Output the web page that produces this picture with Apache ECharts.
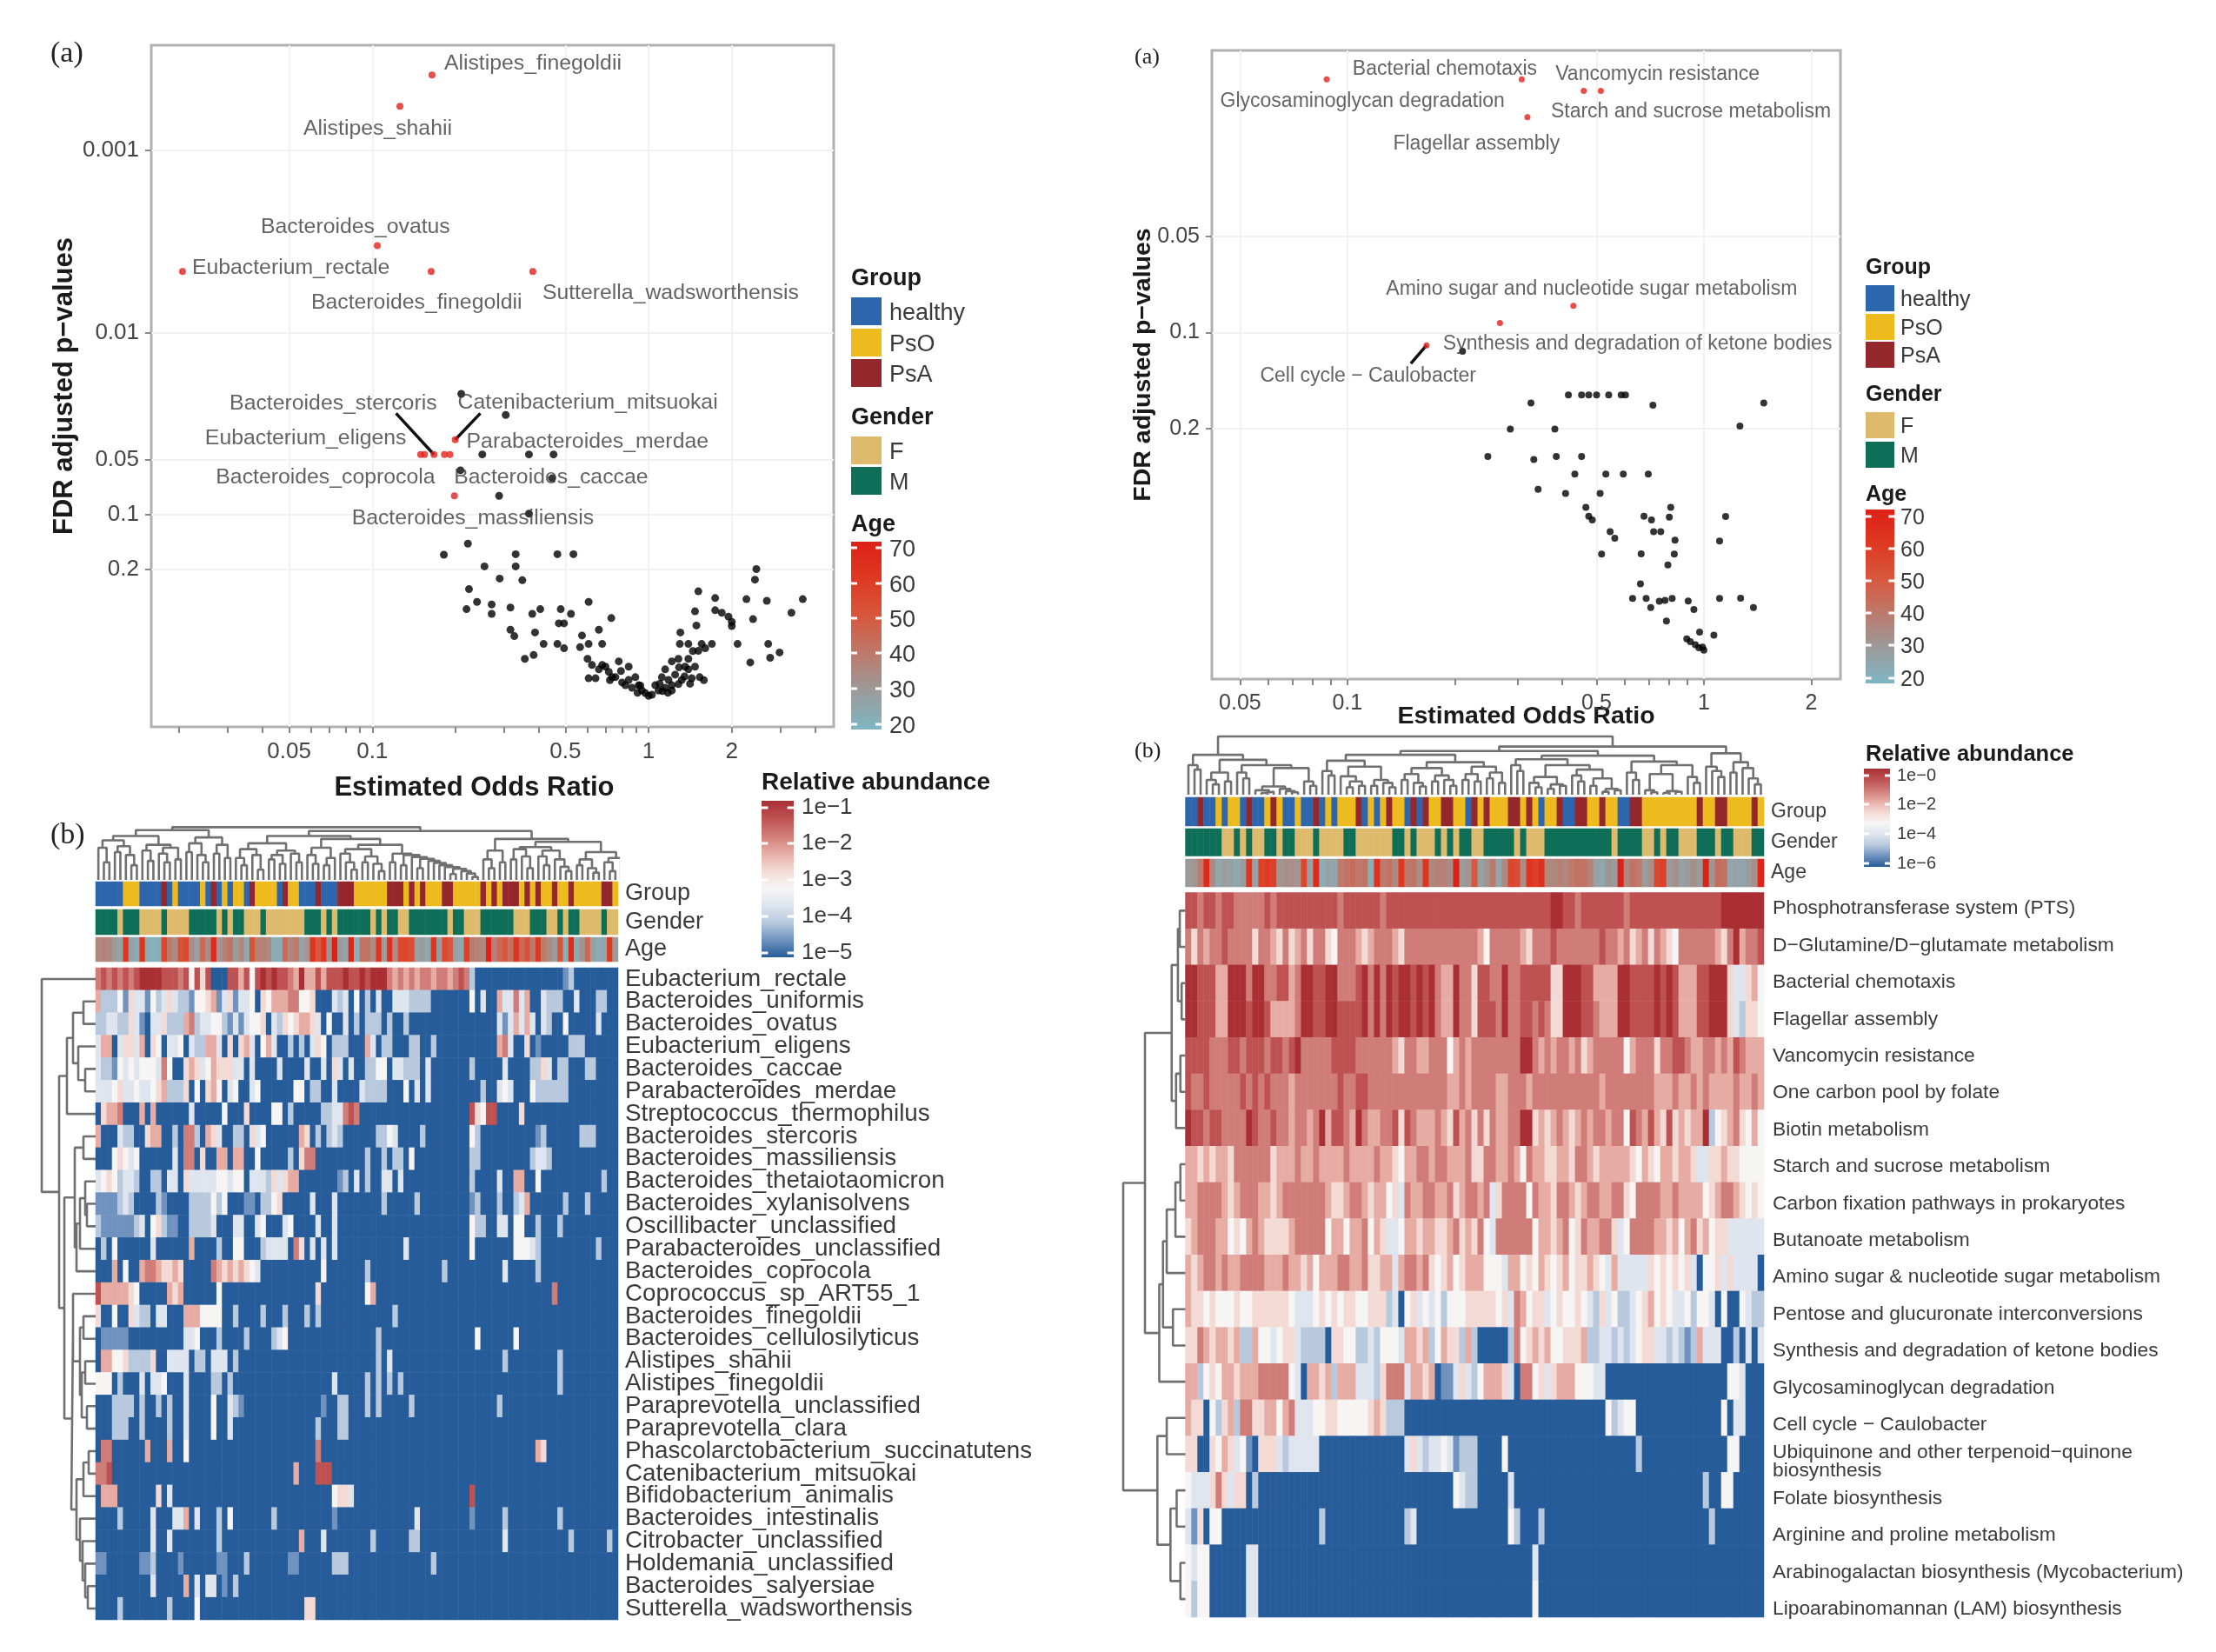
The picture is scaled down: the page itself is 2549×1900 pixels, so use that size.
<!DOCTYPE html>
<html><head><meta charset="utf-8"><style>html,body{margin:0;background:#fff}#c{width:2549px;height:1900px}</style>
<script src="https://cdn.jsdelivr.net/npm/echarts@6/dist/echarts.min.js"></script></head>
<body><div id="c"></div>
<script>
// ---------- volcano data (log10 odds ratio, log10 FDR p) ----------
const leftRedNames=['Alistipes_finegoldii','Alistipes_shahii','Bacteroides_ovatus','Eubacterium_rectale','Bacteroides_finegoldii','Sutterella_wadsworthensis','Catenibacterium_mitsuokai','Eubacterium_eligens','Bacteroides_coprocola','Bacteroides_stercoris','Parabacteroides_merdae','Bacteroides_caccae','Bacteroides_massiliensis'];
const leftRedLogOR=[-.784,-.900,-.982,-1.687,-.787,-.419,-.700,-.825,-.811,-.777,-.719,-.739,-.703];
const leftRedLogP=[-3.415,-3.243,-2.478,-2.336,-2.336,-2.336,-1.411,-1.330,-1.330,-1.330,-1.330,-1.330,-1.103];
const leftBlackLogOR=[-.678,-.517,-.602,-.433,-.344,-.681,-.349,-.541,-.433,-.654,-.741,-.481,-.330,-.272,-.594,-.481,-.539,-.457,.390,.385,-.650,-.621,-.659,-.568,-.568,-.500,-.421,-.392,-.318,-.281,-.217,-.135,-.325,-.306,-.500,-.486,-.411,-.180,-.241,-.380,-.330,-.306,-.248,-.217,-.168,-.448,-.416,-.221,-.205,-.168,-.217,-.192,-.156,-.144,-.108,-.072,-.120,-.096,-.072,-.048,-.060,-.024,0,-.012,.012,.036,.060,.024,.084,.108,.072,.096,.120,.156,.185,.144,.084,.108,.144,.113,.144,.115,.180,.205,.192,.229,.173,.168,.180,.241,.241,.265,.289,.301,.301,.354,.428,.378,.517,.558,.322,.433,.474,.440,.368,.060,.132,.168,-.036,-.084,-.180,-.132,.048,.084,-.10,.04,.13,.15,.07,.05,-.03,-.04,-.14,.20,.11,.16];
const leftBlackLogP=[-1.663,-1.547,-1.330,-1.330,-1.330,-1.243,-1.199,-1.103,-1.005,-.840,-.779,-.782,-.782,-.782,-.715,-.715,-.648,-.639,-.700,-.642,-.590,-.520,-.480,-.506,-.454,-.489,-.454,-.480,-.480,-.454,-.520,-.431,-.402,-.402,-.367,-.332,-.352,-.367,-.335,-.289,-.289,-.265,-.271,-.289,-.289,-.207,-.228,-.207,-.173,-.173,-.100,-.100,-.164,-.135,-.193,-.164,-.106,-.077,-.091,-.106,-.048,-.033,-.004,-.019,-.010,-.033,-.048,-.062,-.062,-.068,-.091,-.120,-.091,-.100,-.106,-.149,-.193,-.207,-.207,-.289,-.289,-.352,-.251,-.265,-.289,-.289,-.390,-.468,-.578,-.541,-.474,-.460,-.439,-.410,-.387,-.535,-.526,-.425,-.460,-.535,-.289,-.289,-.242,-.213,-.187,-.149,-.164,-.164,-.062,-.062,-.149,-.106,-.106,-.033,-.14,-.07,-.11,-.07,-.02,-.03,-.06,-.02,-.09,-.09,-.16,-.25];
const leftConnectors=[[[-.777,-1.330],[-.914,-1.556]],[[-.700,-1.411],[-.609,-1.556]]];
const leftXTicks=[0.05,0.1,0.5,1,2];
const leftXMinor=[.02,.03,.04,.06,.07,.08,.09,.2,.3,.4,.6,.7,.8,.9,3,4];
const leftYTicks=[0.001,0.01,0.05,0.1,0.2];

const rightRedNames=['Bacterial chemotaxis','Glycosaminoglycan degradation','Vancomycin resistance','Starch and sucrose metabolism','Flagellar assembly','Amino sugar and nucleotide sugar metabolism','Synthesis and degradation of ketone bodies','Cell cycle − Caulobacter'];
const rightRedLogOR=[-.511,-1.058,-.337,-.289,-.495,-.366,-.572,-.778];
const rightRedLogP=[-1.794,-1.794,-1.758,-1.758,-1.676,-1.084,-1.030,-.960];
const rightBlackLogOR=[-.677,-.380,-.343,-.323,-.301,-.267,-.232,-.220,-.485,-.143,.168,.101,-.543,-.418,-.606,-.477,-.414,-.343,-.362,-.275,-.226,-.156,-.465,-.388,-.291,-.331,-.093,-.323,-.313,-.168,-.147,-.097,.061,-.263,-.250,-.141,-.121,-.081,.044,-.287,-.176,-.083,-.101,-.178,-.200,-.162,-.149,-.125,-.109,-.089,-.044,-.028,.044,.103,.139,-.105,-.012,.028,-.048,-.038,-.024,-.014,0,-.004];
const rightBlackLogP=[-.941,-.804,-.804,-.804,-.804,-.804,-.804,-.804,-.779,-.772,-.779,-.707,-.697,-.697,-.611,-.602,-.611,-.611,-.556,-.556,-.556,-.556,-.508,-.495,-.495,-.452,-.452,-.424,-.412,-.424,-.412,-.421,-.423,-.375,-.355,-.375,-.375,-.349,-.346,-.305,-.306,-.305,-.271,-.212,-.166,-.166,-.137,-.157,-.160,-.166,-.158,-.131,-.166,-.167,-.137,-.095,-.060,-.051,-.039,-.030,-.021,-.011,-.004,-.013];
const rightConnectors=[[[-.778,-.960],[-.822,-.903]]];
const rightXTicks=[0.05,0.1,0.5,1,2];
const rightXMinor=[.06,.07,.08,.09,.2,.3,.4,.6,.7,.8,.9];
const rightYTicks=[0.05,0.1,0.2];

// label offsets of highlighted points (px), kept apart from the values
const leftLabelOffsets=[[18,-9],[-107,30],[-130,-17],[15,0],[-134,40],[15,29],[7,-39],[-244,-15],[-236,30],[-231,-55],[23,-11],[15,30],[-114,30]];
const rightLabelOffsets=[[-191,-8],[-119,29],[-29,-15],[-54,28],[-151,35],[-212,-16],[-62,28],[-188,39]];

// ---------- heatmap data: one digit per sample, 0 (lowest abundance) .. 9 (highest) ----------
const leftTaxa=['Eubacterium_rectale','Bacteroides_uniformis','Bacteroides_ovatus','Eubacterium_eligens','Bacteroides_caccae','Parabacteroides_merdae','Streptococcus_thermophilus','Bacteroides_stercoris','Bacteroides_massiliensis','Bacteroides_thetaiotaomicron','Bacteroides_xylanisolvens','Oscillibacter_unclassified','Parabacteroides_unclassified','Bacteroides_coprocola','Coprococcus_sp_ART55_1','Bacteroides_finegoldii','Bacteroides_cellulosilyticus','Alistipes_shahii','Alistipes_finegoldii','Paraprevotella_unclassified','Paraprevotella_clara','Phascolarctobacterium_succinatutens','Catenibacterium_mitsuokai','Bifidobacterium_animalis','Bacteroides_intestinalis','Citrobacter_unclassified','Holdemania_unclassified','Bacteroides_salyersiae','Sutterella_wadsworthensis'];
const leftLevels=[
'7878787899 9988878485 8000886848 9898876966 8688898898 9997676767 7677678720 0000000000 0000012000 00000',
'6222415331 4235322144 5613513340 5466677445 0003230402 0300333222 2000000040 3006337360 0322200300 02200',
'2233225310 3352226723 3442131344 5032545665 3040030202 2202002000 0000000000 0003136363 0320040000 03000',
'3660355360 5403340322 6630505630 4630020203 5402220006 3022000220 0200000000 0006730050 1000002220 00000',
'3221434344 4374005653 4655533030 0003000030 0305303002 2440332220 3000000020 0000300002 2530220002 20000',
'3334533433 4562225040 5640340034 0000004402 2003000032 2220004030 3000000000 2003430004 2222220000 00000',
'0566700060 6000000300 0004000500 0044020000 0223378700 0000000000 0000000085 4880000500 0000000000 00000',
'6000322005 6600207720 6530022053 4000000650 2023200000 0224300002 0000000042 0000000000 1200000022 20000',
'0004543400 0000307705 0066066004 0000020577 0000000002 0020220400 0000000022 0000000002 3320000000 00000',
'3454233200 2203305333 3344344033 3253566000 0000120302 0033030000 0000000020 0003006600 4000000000 00200',
'1111232000 0210000222 2424000110 2245000003 0003000000 0020000020 0000000012 0002002360 0000020002 00000',
'2111111230 4521100222 2300033003 4000340000 3003000000 0000000000 0000000042 2003304400 2000200000 00000',
'1:2 3:4 10:3 17:6 22:2 25:4 26:4 30:2 31:3 32:3 33:3 34:3 36:7 37:5 39:3 41:3 43:3 56:3 68:4 76:4 77:4 78:4 79:3 80:2 91:2',
'3:6 5:4 8:6 9:7 10:7 11:6 12:5 13:5 14:6 15:5 21:7 22:6 23:5 24:6 25:5 26:6 27:5 28:4 29:3 41:4 49:2 63:2 74:3 80:2',
'0:8 1:6 2:6 3:6 4:6 5:6 6:5 7:4 13:6 14:5 15:6 22:4 40:5 49:4 50:6 83:7',
'0:5 3:4 6:5 7:3 8:2 9:2 11:3 12:3 16:6 17:6 18:6 19:4 20:4 21:4 22:4 25:2 30:2 34:2 38:2 40:2 54:2',
'1:1 2:1 3:1 4:1 5:1 16:3 17:3 18:4 22:2 27:2 32:2 33:3 34:4 51:2 69:4 76:4',
'1:6 2:6 3:4 4:4 5:5 6:2 7:2 8:2 9:2 10:5 13:3 14:3 15:3 16:3 18:2 19:2 21:3 22:3 23:3 25:2 51:2 53:3 74:2 84:2',
'0:4 1:4 2:4 4:2 8:3 10:3 11:3 12:4 16:3 21:2 22:2 24:2 43:3 49:2 51:2 53:2 55:2 84:2',
'3:2 4:2 5:2 6:2 8:2 11:2 13:2 16:3 21:4 24:3 25:2 26:1 41:1 44:2 45:2 49:2 51:2 57:2 73:2',
'3:2 4:2 5:2 8:2 13:2 16:3 21:4 24:3 40:2 44:2 45:2',
'1:7 2:7 9:6 13:6 16:4 40:7 80:6 81:5',
'0:7 1:7 2:8 36:6 40:8 41:8 42:8',
'1:6 2:6 3:6 11:5 13:3 43:4 44:5 45:5 46:3 68:8',
'4:2 10:3 14:3 15:3 16:6 18:3 22:2 24:4 32:2 43:1 58:3 68:1 74:2 84:2',
'10:3 13:3 22:2 37:6 41:3 50:2 57:2 58:2 74:3 86:2 93:2',
'0:1 1:1 8:1 9:1 10:2 15:1 22:1 23:1 27:2 35:1 36:1 43:2 44:2 45:2 61:2',
'10:3 16:6 18:3 20:3 21:3 23:1 25:2',
'4:2 13:2 18:4 38:5 39:5'];
const rightPathways=['Phosphotransferase system (PTS)','D−Glutamine/D−glutamate metabolism','Bacterial chemotaxis','Flagellar assembly','Vancomycin resistance','One carbon pool by folate','Biotin metabolism','Starch and sucrose metabolism','Carbon fixation pathways in prokaryotes','Butanoate metabolism','Amino sugar & nucleotide sugar metabolism','Pentose and glucuronate interconversions','Synthesis and degradation of ketone bodies','Glycosaminoglycan degradation','Cell cycle − Caulobacter','Ubiquinone and other terpenoid−quinone\nbiosynthesis','Folate biosynthesis','Arginine and proline metabolism','Arabinogalactan biosynthesis (Mycobacterium)','Lipoarabinomannan (LAM) biosynthesis'];
const rightLevels=[
'8878878877 7778788888 8888878888 8878888888 8888888888 8888888888 9988788888 8878888888 8888888899 99999',
'7576778777 7577657567 5775477765 6777657777 7777777764 7777765777 8777777787 7675675765 4777777657 96778',
'9988866999 7997788679 9889977789 7979899898 9766977588 7797788888 5599988666 6998888989 8666889995 33564',
'9988866999 8998666679 9889988889 7979899898 9766977588 8797788787 5599988766 6998888989 8666889995 32554',
'8888777887 8887887897 7777888877 7777657766 7774676777 7777799767 6776756777 7746777577 8876677676 87666',
'8778777778 7878777677 7777787788 7777777777 7776676777 7667776777 7777777767 7777777666 7667676666 76676',
'9887887777 9877877677 6796887697 6677858766 6765867575 7667799565 6765676776 7748768658 5656692456 75464',
'6656566577 7777566676 6766667666 6766546677 6776667557 7667647665 5665776566 6665465466 5665335565 54444',
'6677776567 7766567777 7776556776 5664537667 7667567767 3577774766 5776567766 7754777766 7666645677 65454',
'5677766454 6765555677 7774664667 4653346656 6556756574 3777777466 5674576677 5347777665 6467564553 33333',
'6567767667 7776667665 6466677667 5566367767 5456456664 4436645465 4564556543 6333335454 5453044535 33330',
'6554544454 4555555433 3454545544 5552304534 3424445555 5453764553 4544543253 4223456454 3342443040 04322',
'5576566562 2644345532 2220554422 3244436656 2465526200 0002745656 4455562233 2323455332 3212633300 20303',
'6624546656 6677777430 6656266633 3257773665 6011353246 6653077453 5666444330 0000000000 0000000004 43000',
'6550425627 7556646733 3445544444 5652220000 0000000000 0000000000 0000000004 2344000000 0000000040 33000',
'5500546534 1055532333 3300000000 0000003532 3343122200 0040000000 0000000000 0000200000 0000000004 40000',
'0:4 1:3 2:3 3:3 4:5 5:7 6:5 7:3 8:5 9:5 11:2 44:4 45:3 46:2 47:2 53:3 85:2 88:4 89:4',
'0:3 1:1 2:5 4:4 5:4 22:2 36:2 37:3 53:4 54:2 58:2 86:2',
'0:4 1:3 2:4 3:4 10:3 11:3 57:3',
'0:4 1:2 2:4 3:4 10:3 11:3 57:4'];
// run-length annotation tracks: H healthy, O PsO, A PsA / F, M
const leftGroupRuns='H5 O3 H4 A1 H1 O1 H4 O1 H1 A1 H1 O1 H1 O2 H1 A1 O4 H1 A1 O2 H3 A1 H3 A3 O6 A3 O1 A1 O1 A1 O3 A2 O5 A1 O1 A1 O1 A3 O1 A1 O1 A1 O2 A1 O2 A1 O5 A2 O1';
const leftGenderRuns='M4 F1 M3 F4 M1 F4 M5 F1 M1 F1 M2 F3 M1 F7 M3 F1 M1 F1 M6 F1 M1 F1 M2 F2 M7 F1 M2 F3 M6 F3 M3 F2 M1 F1 M2 F4 M1 F2';
const leftAge=[36,38,36,30,28,62,28,24,62,24,22,24,56,40,35,52,55,34,28,45,35,66,32,38,42,30,36,25,52,38,38,36,24,24,44,36,40,28,32,62,50,62,32,70,30,28,68,22,42,42,35,62,30,65,35,55,56,54,28,30,25,62,30,55,50,28,25,58,40,38,35,70,38,45,50,42,62,45,52,40,60,40,35,30,52,24,66,25,32,46,28,24,26,60,30];
const rightGroupRuns='H2 A1 H2 O1 H1 O2 H1 A1 H2 O1 A1 O1 H2 O1 H2 A1 H1 O1 H1 O3 A1 H1 O1 H1 O1 A1 O2 H1 A1 H1 A1 O2 A2 O2 H1 A1 O1 A1 O3 A2 O1 A1 O1 H1 O2 A1 H2 A2 O2 A1 O2 H2 A2 O9 A1 O2 A2 O4 A1 O1';
const rightGenderRuns='M6 F2 M1 F1 M1 F2 M2 F1 M2 F3 M1 F4 M2 F6 M2 F1 M1 F3 M1 F1 M1 F1 M2 F2 M5 F1 M1 F3 M11 F1 M4 F2 M1 F1 M2 F3 M3 F1 M2 F3 M2';
const rightAge=[30,32,40,66,35,26,30,28,25,30,62,28,58,60,58,32,34,34,32,56,28,66,24,28,26,40,42,44,40,42,24,64,40,42,36,60,40,42,34,62,36,38,38,34,70,30,32,50,28,32,40,26,36,56,54,34,62,58,64,36,36,38,36,40,42,42,38,28,26,32,30,70,36,42,40,30,34,56,58,30,34,28,30,34,30,70,32,44,42,26,28,26,30,34,68];
const stripNames=['Group','Gender','Age'];
// dendrograms: [merge height, child, child]; 0 is a leaf
const dA=[170,[150,[135,[110,0,[60,0,0]],[115,[95,0,0],[85,0,[50,0,0]]]],[120,[100,0,[65,0,0]],[110,[90,0,[60,0,0]],[70,0,0]]]],[145,[125,[95,0,0],[85,0,[60,0,0]]],[120,[90,0,0],[75,0,0]]]];
const dB=[150,[125,[105,[75,0,[50,0,0]],[85,0,[35,0,0]]],[100,[85,[70,0,0],[55,0,0]],[90,0,[60,0,0]]]],[140,[110,[85,0,[55,0,0]],[75,[50,0,0],0]],[120,[105,[90,0,[60,0,[35,0,0]]],[80,[60,0,0],[55,0,[30,0,0]]]],[90,[60,0,0],[85,[50,0,0],[78,0,[72,[40,0,0],[65,0,[58,0,[50,0,[44,0,[38,[20,0,0],[30,0,[22,0,[10,0,0]]]]]]]]]]]]]]];
const dC=[140,[100,[70,0,[40,0,0]],[60,0,0]],[130,[112,[105,[70,0,0],[80,0,[40,0,0]]],[100,[80,0,[50,0,0]],[70,0,[45,0,[30,0,0]]]]],[95,[70,[50,0,0],[40,0,[25,0,0]]],[75,[60,0,[30,0,0]],[65,0,0]]]]];
const leftTopTree=[180,dA,[167,dB,dC]];
const leftSideTree=[62,0,[42,[33,[26,[14,0,0],[20,0,[12,0,0]]],0],[36,[24,[14,0,0],[22,[18,[12,0,[10,0,0]],0],0]],[28,[26,0,[18,[14,0,0],[16,[12,0,0],[10,0,0]]]],[22,[14,[8,0,0],0],[18,0,[15,0,[12,0,[9,0,0]]]]]]]]];
const rL=[135,[100,0,[85,0,0]],[118,[75,[50,0,[35,0,0]],[45,0,0]],[100,[75,0,[55,0,0]],[90,[28,[15,0,[10,[6,0,0],0]],[20,0,[12,0,[8,0,0]]]],[45,0,[30,0,0]]]]]];
const rM=[135,[115,[80,0,[65,0,0]],[95,[62,0,[45,[25,0,0],[30,0,0]]],[50,[30,0,0],[40,0,[25,0,0]]]]],[110,[90,[70,[50,0,0],[40,0,[28,0,0]]],[65,[45,0,0],[50,0,[30,0,0]]]],[95,[70,[50,0,0],[45,0,0]],[75,[55,0,0],[40,0,0]]]]];
const rR=[132,[120,[100,0,[80,0,0]],[100,[60,[40,0,[25,0,0]],[35,[20,0,0],[30,0,0]]],[85,[65,0,[45,0,0]],[55,[30,0,0],[20,[10,0,0],[15,0,0]]]]]],[112,[75,0,[50,0,0]],[100,[70,[15,0,[8,0,0]],[12,[6,0,0],[10,0,0]]],[60,0,[40,0,0]]]]];
const rF=[140,[95,0,[80,0,[60,0,0]]],[110,[75,0,0],[90,0,[55,0,[35,0,0]]]]];
const rightTopTree=[197,rL,[163,[148,rM,rR],rF]];
const rightSideTree=[100,[65,[22,[12,[9,0,0],[6,0,0]],[15,[8,0,0],0]],[42,[36,[30,[16,[8,0,0],0],0],[20,0,0]],0]],[45,[30,0,0],[24,[14,0,0],[8,0,0]]]];
// legend contents
const groupLegend=['healthy','PsO','PsA'], genderLegend=['F','M'], ageLegend=[70,60,50,40,30,20];
const leftAbundanceTicks=['1e−1','1e−2','1e−3','1e−4','1e−5'], rightAbundanceTicks=['1e−0','1e−2','1e−4','1e−6'];
const N=95;
// ---------- colours ----------
const heatColors=['#265C99','#6F93BE','#B8C9DE','#DEE5EE','#F7F5F4','#F3DAD4','#E6ACA4','#D07C78','#BE5252','#A92F34'];
const groupColors={H:'#2E66AE',O:'#EDBB1E',A:'#93272C'}, genderColors={F:'#DDBA6C',M:'#0E6E58'};
const ageStops=['#7FB6C4','#9A9C9C','#BC7A6C','#D7583E','#DE3A22','#DD2117'];
const ink='#3a3a3a', FF='"Liberation Sans"', SF='"Liberation Serif"';
// ---------- decoding ----------
const runs=s=>{const o=[];s.split(' ').forEach(t=>{for(let i=0;i<+t.slice(1);i++)o.push(t[0])});return o};
const decode=r=>{let a;if(r.includes(':')){a=new Array(N).fill(0);r.split(' ').forEach(t=>{const[c,d]=t.split(':');a[+c]=+d})}else{a=r.replace(/\s/g,'').split('').map(Number);while(a.length<N)a.push(0);a.length=N}return a};
const heatData=(rows,low,span)=>{const o=[];rows.forEach((r,y)=>decode(r).forEach((d,x)=>o.push([x,y,low+d*span/9])));return o};
const dendro=(tree,swap)=>{let leaf=0;const pts=[];const P=(a,b)=>swap?[b,a]:[a,b];
 const walk=n=>{if(n===0)return{p:leaf++,h:0};const A=walk(n[1]),B=walk(n[2]),h=n[0];pts.push(P(A.p,A.h),P(A.p,h),P(B.p,h),P(B.p,B.h),['-','-']);return{p:(A.p+B.p)/2,h}};
 walk(tree);return pts};
const pow=v=>Math.pow(10,v);
const idx=[...Array(N).keys()];
// ---------- assembling ----------
const grids=[],xAxes=[],yAxes=[],series=[],graphic=[];
function addGrid(g,x,y){grids.push(g);const i=grids.length-1;
 [].concat(x).forEach(a=>xAxes.push(Object.assign({gridIndex:i},a)));
 yAxes.push(Object.assign({gridIndex:i},y));return i}
const xCount=()=>xAxes.length, yCount=()=>yAxes.length;
const tickFmt=v=>String(+(+v).toPrecision(2));
function volcano(o){
 const xi=xCount(), yi=yCount();
 const axisTxt={color:'#444',fontFamily:FF,fontSize:o.tick};
 addGrid({left:o.l,top:o.t,width:o.w,height:o.h,show:true,borderColor:'#b0b0b0',borderWidth:3,backgroundColor:'#fff'},[
  {type:'log',logBase:10,min:pow(o.x[0]),max:pow(o.x[1]),name:'Estimated Odds Ratio',nameLocation:'middle',nameGap:o.xGap,nameMoveOverlap:false,
   nameTextStyle:{fontFamily:FF,fontWeight:'bold',fontSize:o.title,color:'#1a1a1a',padding:o.xPad},
   axisLine:{show:false},axisTick:{show:true,length:7,lineStyle:{color:'#888',width:2},customValues:o.xT},
   axisLabel:Object.assign({margin:16,customValues:o.xT,formatter:tickFmt,hideOverlap:false,showMinLabel:true,showMaxLabel:true},axisTxt),
   splitLine:{show:true,lineStyle:{color:'#f1f1f1',width:2}},minorTick:{show:false}},
  {type:'log',logBase:10,min:pow(o.x[0]),max:pow(o.x[1]),position:'bottom',axisLine:{show:false},
   axisTick:{show:true,length:7,lineStyle:{color:'#888',width:2},customValues:o.xM},
   axisLabel:{show:false},splitLine:{show:false}}],
  {type:'log',logBase:10,min:pow(o.y[0]),max:pow(o.y[1]),inverse:true,name:'FDR adjusted p−values',nameLocation:'middle',nameGap:o.yGap,nameMoveOverlap:false,
   nameTextStyle:{fontFamily:FF,fontWeight:'bold',fontSize:o.title,color:'#1a1a1a'},
   axisLine:{show:false},axisTick:{show:true,length:7,lineStyle:{color:'#888',width:2},customValues:o.yT},
   axisLabel:Object.assign({margin:14,customValues:o.yT,formatter:tickFmt},axisTxt),
   splitLine:{show:true,lineStyle:{color:'#f1f1f1',width:2}}});
 o.conn.forEach(c=>series.push({type:'line',xAxisIndex:xi,yAxisIndex:yi,silent:true,symbol:'none',data:c.map(p=>[pow(p[0]),pow(p[1])]),lineStyle:{color:'#111',width:3.5},z:3}));
 series.push({type:'scatter',name:'not significant',xAxisIndex:xi,yAxisIndex:yi,symbolSize:o.black,itemStyle:{color:'#000'},silent:true,
  data:o.bx.map((x,i)=>[pow(x),pow(o.by[i])]),z:3});
 series.push({type:'scatter',name:'significant',xAxisIndex:xi,yAxisIndex:yi,symbolSize:o.red,itemStyle:{color:'#E3201B'},silent:true,z:4,
  data:o.names.map((n,i)=>({name:n,value:[pow(o.rx[i]),pow(o.ry[i])],
   label:{show:true,position:o.off[i],formatter:'{b}',align:'left',verticalAlign:'middle',fontFamily:FF,fontSize:o.label,color:'#3c3c3c'}}))});
}
function heat(o){
 const xi=xCount(),yi=yCount();
 addGrid({left:o.l,top:o.t,width:o.w,height:o.h},{type:'category',data:idx,show:false},
  {type:'category',data:o.rows,inverse:true,position:'right',axisLine:{show:false},axisTick:{show:false},
   axisLabel:{show:!o.labelGrid,interval:0,margin:o.m,fontFamily:FF,fontSize:o.fs,color:ink,lineHeight:o.lh||undefined}});
 series.push({type:'heatmap',name:o.name,xAxisIndex:xi,yAxisIndex:yi,data:o.data,silent:true,itemStyle:{borderWidth:0}});
 const id=series.length-1;
 if(o.labelGrid){ // row labels of this panel sit on a slightly taller ladder than the rows themselves
  addGrid({left:o.l,top:o.labelGrid[0],width:o.w,height:o.labelGrid[1]},{type:'category',data:idx,show:false},
   {type:'category',data:o.rows,inverse:true,position:'right',axisLine:{show:false},axisTick:{show:false},
    axisLabel:{interval:0,margin:o.m,fontFamily:FF,fontSize:o.fs,color:ink,lineHeight:o.lh||undefined}});
 }
 return id}
function strip(o,name,values){
 const xi=xCount(),yi=yCount();
 addGrid({left:o.l,top:o.t,width:o.w,height:o.h},{type:'category',data:idx,show:false},
  {type:'category',data:[name],position:'right',axisLine:{show:false},axisTick:{show:false},
   axisLabel:{margin:o.m,fontFamily:FF,fontSize:o.fs,color:ink,padding:o.pad||0}});
 series.push({type:'heatmap',name,xAxisIndex:xi,yAxisIndex:yi,silent:true,data:values.map((v,i)=>[i,0,v])});
 return series.length-1}
function tree(o,t,swap){
 const xi=xCount(),yi=yCount();
 const hAx={type:'value',show:false,min:0,max:o.max,inverse:!!swap}, lAx={type:'value',show:false,min:-.5,max:o.n-.5,inverse:!!swap};
 addGrid({left:o.l,top:o.t,width:o.w,height:o.h},swap?hAx:lAx,swap?lAx:hAx);
 series.push({type:'line',xAxisIndex:xi,yAxisIndex:yi,silent:true,symbol:'none',connectNulls:false,data:dendro(t,swap),lineStyle:{color:'#707070',width:2.6}});
}
const cat=s=>runs(s).map(k=>k==='H'?0:k==='O'?1:k==='A'?2:k==='F'?3:4);

volcano({l:174,t:52,w:785,h:784,x:[-1.80,.67],y:[-3.579,.167],xT:leftXTicks,xM:leftXMinor,yT:leftYTicks,tick:26,title:31,label:24.8,xGap:55,yGap:84,xPad:[0,42,0,0],
 bx:leftBlackLogOR,by:leftBlackLogP,rx:leftRedLogOR,ry:leftRedLogP,names:leftRedNames,off:leftLabelOffsets,conn:leftConnectors,black:9,red:8});
volcano({l:1394,t:58,w:723,h:723,x:[-1.38,.383],y:[-1.885,.087],xT:rightXTicks,xM:rightXMinor,yT:rightYTicks,tick:25,title:28.5,label:23,xGap:29,yGap:64,xPad:0,
 bx:rightBlackLogOR,by:rightBlackLogP,rx:rightRedLogOR,ry:rightRedLogP,names:rightRedNames,off:rightLabelOffsets,conn:rightConnectors,black:8,red:7});

const hL=heat({l:110,t:1113,w:601,h:750,rows:leftTaxa,data:heatData(leftLevels,-5,4),m:8,fs:27.8,name:'left abundance'});
const hR=heat({l:1363.5,t:1026.5,w:665.5,h:833.5,rows:rightPathways,data:heatData(rightLevels,-6,6),m:10,fs:22.8,lh:21,name:'right abundance',labelGrid:[1024,848]});
const sL={l:110,w:601,m:8,fs:27}, sR={l:1363.5,w:665.5,m:8,fs:23};
const cats=[strip({...sL,t:1014,h:28,pad:[5,0,0,0]},stripNames[0],cat(leftGroupRuns)),strip({...sL,t:1046,h:29,pad:[3,0,0,0]},stripNames[1],cat(leftGenderRuns)),
 strip({...sR,t:917,h:33,pad:[6,0,0,0]},stripNames[0],cat(rightGroupRuns)),strip({...sR,t:953,h:31.5,pad:[0,0,12,0]},stripNames[1],cat(rightGenderRuns))];
const ages=[strip({...sL,t:1078,h:28,pad:[3,0,0,0]},stripNames[2],leftAge),strip({...sR,t:988,h:32,pad:[0,0,26,0]},stripNames[2],rightAge)];
tree({l:110,t:948,w:601,h:64,max:190,n:N},leftTopTree,false);
tree({l:45,t:1113,w:65,h:750,max:65,n:29},leftSideTree,true);
tree({l:1363.5,t:846,w:665.5,h:68,max:200,n:N},rightTopTree,false);
tree({l:1292,t:1026.5,w:71.5,h:833.5,max:100,n:20},rightSideTree,true);

// ---------- hand-placed legends and panel letters ----------
const T=(text,x,y,fontSize,extra)=>graphic.push({type:'text',x,y,silent:true,style:Object.assign({text,fontFamily:FF,fontSize,fill:ink,verticalAlign:'middle',align:'left'},extra||{})});
const R=(x,y,w,h,fill)=>graphic.push({type:'rect',silent:true,shape:{x,y,width:w,height:h},style:{fill}});
const bold={fontWeight:'bold',fill:'#1a1a1a'};
function bar(x,y,w,h,stops,tickYs){const g=new echarts.graphic.LinearGradient(0,0,0,1,stops.map((c,i)=>({offset:i/(stops.length-1),color:c})));R(x,y,w,h,g);
 tickYs.forEach(t=>{R(x,t-1.5,w*.2,3,'#fff');R(x+w*.8,t-1.5,w*.2,3,'#fff')})}
function catLegend(o){
 const d=o.d;
 T('Group',o.x,o.gt+d,o.fs,bold);
 groupLegend.forEach((n,i)=>{R(o.x,o.g[i],o.sw,o.sh,groupColors['HOA'[i]]);T(n,o.lx,o.g[i]+o.sh/2+d,o.fs)});
 T('Gender',o.x,o.ft+d,o.fs,bold);
 genderLegend.forEach((n,i)=>{R(o.x,o.f[i],o.sw,o.sh,genderColors[n]);T(n,o.lx,o.f[i]+o.sh/2+d,o.fs)});
 T('Age',o.x,o.at+d,o.fs,bold);
 bar(o.x,o.ay,o.sw,o.ah,ageStops.slice().reverse(),o.ty);
 ageLegend.forEach((n,i)=>T(String(n),o.lx,o.ty[i]+d,o.fs));
}
catLegend({d:3,x:979,lx:1023,fs:27,sw:35,sh:32,gt:318,g:[342,378,413],ft:478,f:[502,537],at:601,ay:623,ah:216,ty:[630,671,711,751,792,833]});
catLegend({d:2,x:2146,lx:2186,fs:25,sw:33,sh:30,gt:306,g:[328,361,393],ft:452,f:[474,508],at:567,ay:586,ah:200,ty:[594,631,668,705,742,780]});
const abund=[...heatColors].reverse();
T('Relative abundance',876,900,28,bold);
bar(876,921,37,180,abund,[929,970,1012,1054,1096]);
leftAbundanceTicks.forEach((t,i)=>T(t,922,[929,970,1012,1054,1096][i],26));
T('Relative abundance',2146,868,25.5,bold);
bar(2144,884,30,113,abund,[892,925,959,993]);
rightAbundanceTicks.forEach((t,i)=>T(t,2182,[892,925,959,993][i],20));
T('(a)',58,62,34,{fontFamily:SF,fill:'#222'});
T('(b)',58,961,34,{fontFamily:SF,fill:'#222'});
T('(a)',1305,66,26,{fontFamily:SF,fill:'#222'});
T('(b)',1305,864,26,{fontFamily:SF,fill:'#222'});

const visualMap=[
 {type:'continuous',show:false,dimension:2,seriesIndex:hL,min:-5,max:-1,inRange:{color:heatColors}},
 {type:'continuous',show:false,dimension:2,seriesIndex:hR,min:-6,max:0,inRange:{color:heatColors}},
 {type:'continuous',show:false,dimension:2,seriesIndex:ages,min:20,max:70,inRange:{color:ageStops}},
 {type:'piecewise',show:false,dimension:2,seriesIndex:cats,pieces:[{value:0,color:groupColors.H},{value:1,color:groupColors.O},{value:2,color:groupColors.A},{value:3,color:genderColors.F},{value:4,color:genderColors.M}]}
];
const chart=echarts.init(document.getElementById('c'),null,{renderer:'canvas'});
chart.setOption({animation:false,backgroundColor:'#fff',grid:grids,xAxis:xAxes,yAxis:yAxes,series,visualMap,graphic:{elements:graphic}});
</script></body></html>
